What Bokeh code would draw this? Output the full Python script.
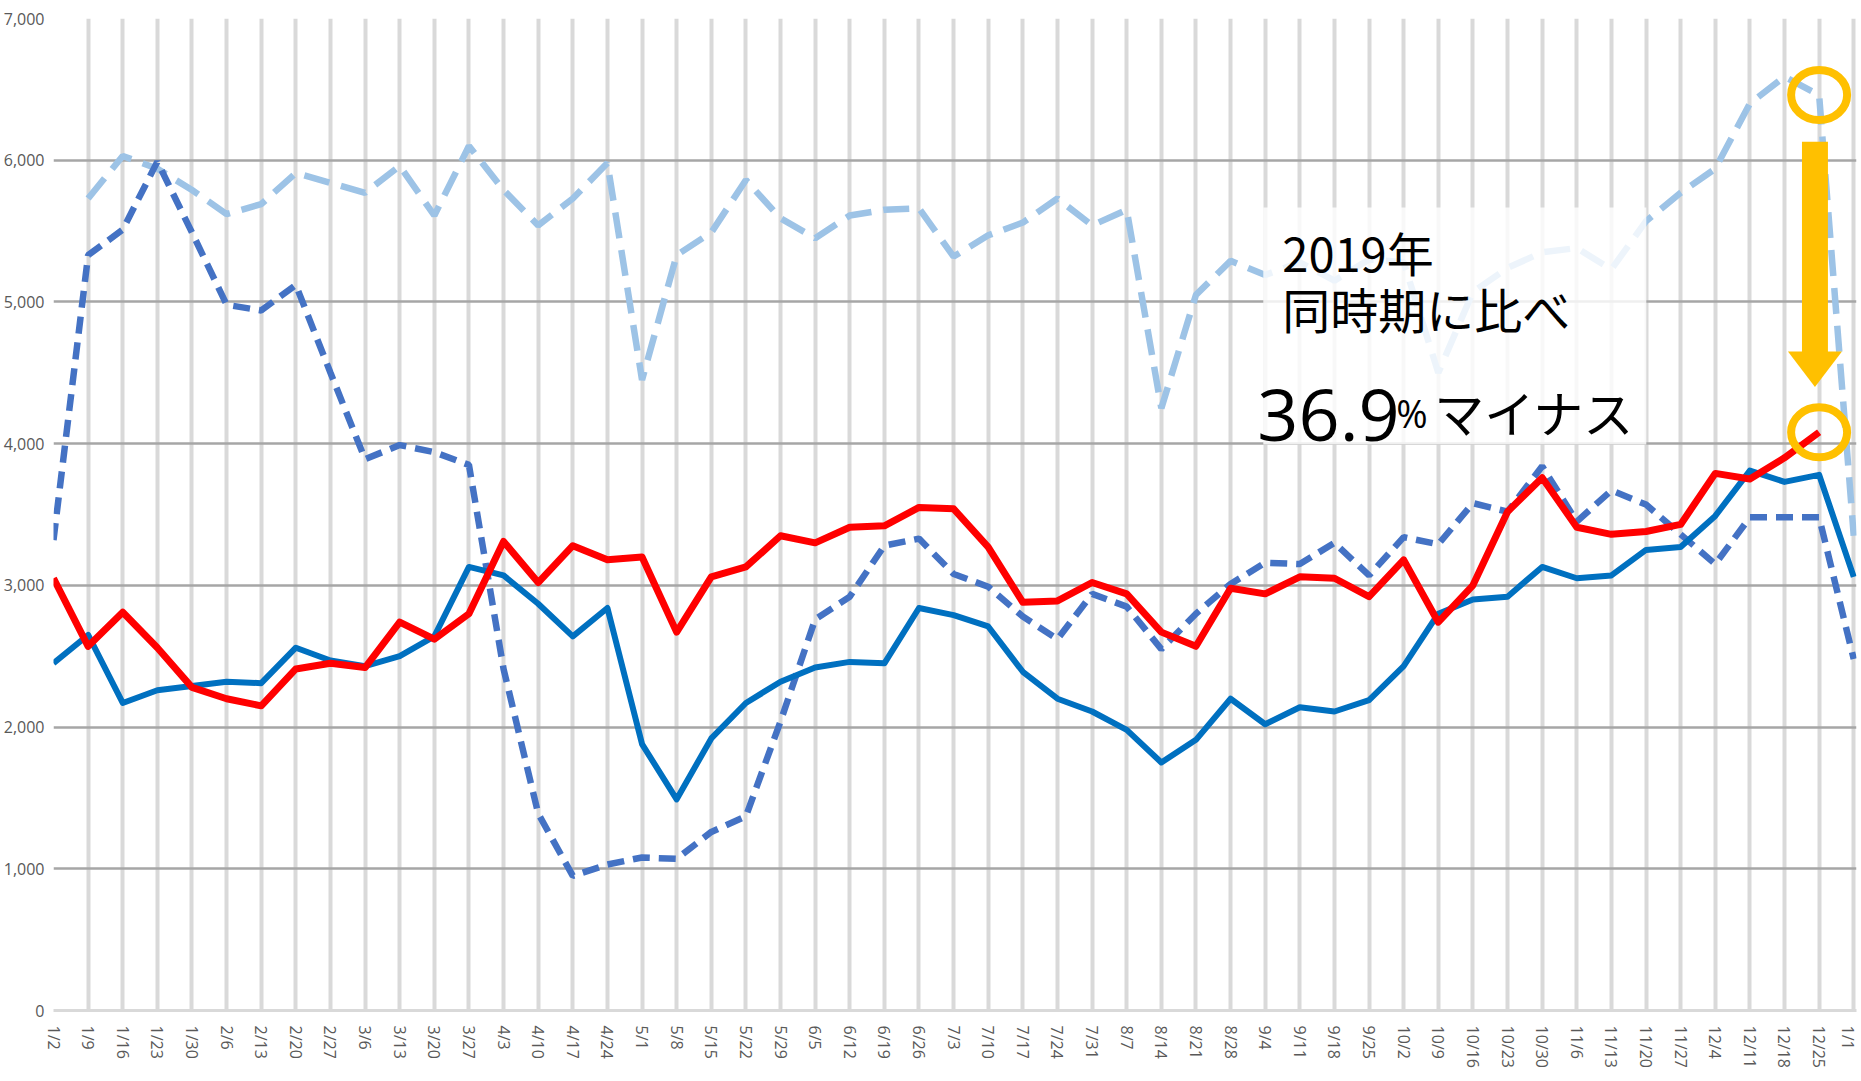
import math
import numpy as np
from bokeh.plotting import figure
from bokeh.models import FixedTicker, Range1d, Label, NumeralTickFormatter, ColumnDataSource
from bokeh.embed import file_html
from bokeh.resources import INLINE

# ---- data ----
dates = ["1/2", "1/9", "1/16", "1/23", "1/30", "2/6", "2/13", "2/20", "2/27", "3/6", "3/13", "3/20", "3/27",
         "4/3", "4/10", "4/17", "4/24", "5/1", "5/8", "5/15", "5/22", "5/29", "6/5", "6/12", "6/19", "6/26",
         "7/3", "7/10", "7/17", "7/24", "7/31", "8/7", "8/14", "8/21", "8/28", "9/4", "9/11", "9/18", "9/25",
         "10/2", "10/9", "10/16", "10/23", "10/30", "11/6", "11/13", "11/20", "11/27", "12/4", "12/11",
         "12/18", "12/25", "1/1"]

y2019 = [None, 5730, 6030, 5940, 5790, 5620, 5690, 5910, 5840, 5770, 5960, 5610, 6100,
         5790, 5540, 5730, 5980, 4450, 5330, 5490, 5860, 5590, 5450, 5610, 5650, 5660,
         5320, 5470, 5560, 5730, 5540, 5650, 4250, 5050, 5290, 5190, 5280, 5150, 5300,
         5280, 4500, 5070, 5240, 5350, 5380, 5230, 5570, 5770, 5940, 6400, 6590, 6460, 3350]

y2020 = [3320, 5330, 5510, 5990, 5490, 4980, 4940, 5120, 4500, 3890, 3990, 3940, 3850,
         2410, 1390, 950, 1030, 1080, 1070, 1260, 1370, 2040, 2760, 2920, 3280, 3330,
         3080, 2990, 2780, 2620, 2940, 2850, 2550, 2800, 3010, 3160, 3150, 3300, 3070,
         3340, 3290, 3580, 3520, 3840, 3450, 3670, 3570, 3360, 3150, 3480, 3480, 3480, 2480]

y2021 = [2450, 2650, 2170, 2260, 2290, 2320, 2310, 2560, 2470, 2430, 2500, 2640, 3130,
         3070, 2870, 2640, 2840, 1880, 1490, 1920, 2170, 2320, 2420, 2460, 2450, 2840,
         2790, 2710, 2390, 2200, 2110, 1980, 1750, 1910, 2200, 2020, 2140, 2110, 2190,
         2430, 2800, 2900, 2920, 3130, 3050, 3070, 3250, 3270, 3490, 3810, 3730, 3780, 3060]

y2022 = [3050, 2570, 2810, 2560, 2280, 2200, 2150, 2410, 2450, 2420, 2740, 2620, 2800,
         3310, 3020, 3280, 3180, 3200, 2670, 3060, 3130, 3350, 3300, 3410, 3420, 3550,
         3540, 3270, 2880, 2890, 3020, 2940, 2670, 2570, 2980, 2940, 3060, 3050, 2920,
         3180, 2740, 3000, 3520, 3760, 3410, 3360, 3380, 3430, 3790, 3750, 3900, 4080, None]

y_ticks = [0, 1000, 2000, 3000, 4000, 5000, 6000, 7000]

note_year = "2019年"
note_line2 = "同時期に比べ"
note_pct = "36.9"
note_pct_sign = "%"
note_minus = "マイナス"


def arr(v):
    return np.array([np.nan if a is None else a for a in v], dtype=float)


x = np.arange(len(dates))

p = figure(width=1858, height=1072, output_backend="svg", toolbar_location=None,
           x_range=Range1d(0, len(dates) - 1 + 0.08), y_range=Range1d(0, 7000),
           min_border_top=18, min_border_bottom=62, min_border_left=0, min_border_right=2)
p.outline_line_color = None
p.background_fill_color = "white"
p.border_fill_color = "white"

# x axis
p.xaxis.ticker = FixedTicker(ticks=list(range(len(dates))))
p.xaxis.major_label_overrides = {i: d for i, d in enumerate(dates)}
p.xaxis.major_label_orientation = -math.pi / 2
p.xaxis.major_label_text_font = "Open Sans"
p.xaxis.major_label_text_font_size = "16px"
p.xaxis.major_label_text_color = "#595959"
p.xaxis.major_label_standoff = 9
p.xaxis.axis_line_color = "#D9D9D9"
p.xaxis.axis_line_width = 3
p.xaxis.major_tick_line_color = None
p.xaxis.minor_tick_line_color = None

# y axis
p.yaxis.ticker = FixedTicker(ticks=y_ticks)
p.yaxis.formatter = NumeralTickFormatter(format="0,0")
p.yaxis.major_label_text_font = "Open Sans"
p.yaxis.major_label_text_font_size = "16px"
p.yaxis.major_label_text_color = "#595959"
p.yaxis.major_label_standoff = 3
p.yaxis.axis_line_color = None
p.yaxis.major_tick_line_color = None
p.yaxis.minor_tick_line_color = None

# grids
p.xgrid.ticker = FixedTicker(ticks=list(range(len(dates))))
p.xgrid.grid_line_color = "#D9D9D9"
p.xgrid.grid_line_width = 4
p.ygrid.ticker = FixedTicker(ticks=y_ticks)
p.ygrid.grid_line_color = "#A6A6A6"
p.ygrid.grid_line_width = 2.5

# series
p.line(x, arr(y2019), line_color="#9DC3E6", line_width=6.5, line_dash="26 12")
p.line(x, arr(y2020), line_color="#4472C4", line_width=6.5, line_dash="17 9")
p.line(x, arr(y2021), line_color="#0070C0", line_width=6, line_join="round")
p.line(x, arr(y2022), line_color="#FF0000", line_width=7, line_join="round")


def px_to_x(px):
    return (px - 52.2) / 34.62


def py_to_y(py):
    return (1011 - py) / 141.7 * 1000


# annotation box
p.quad(left=[px_to_x(1262)], right=[px_to_x(1645)], top=[py_to_y(208)], bottom=[py_to_y(445)],
       fill_color="white", fill_alpha=0.82, line_color=None)

font_jp = "Noto Sans CJK JP"
p.add_layout(Label(x=px_to_x(1281), y=py_to_y(218), text=note_year, text_font=font_jp,
                   text_font_size="47px", text_color="black", text_baseline="top"))
p.add_layout(Label(x=px_to_x(1281), y=py_to_y(274), text=note_line2, text_font=font_jp,
                   text_font_size="48px", text_color="black", text_baseline="top"))
p.add_layout(Label(x=px_to_x(1256), y=py_to_y(416), text=note_pct, text_font="Open Sans",
                   text_font_size="72px", text_color="black", text_baseline="alphabetic"))
p.add_layout(Label(x=px_to_x(1395), y=py_to_y(414), text=note_pct_sign, text_font="Open Sans",
                   text_font_size="38px", text_color="black", text_baseline="alphabetic"))
p.add_layout(Label(x=px_to_x(1433), y=py_to_y(412), text=note_minus, text_font=font_jp,
                   text_font_size="50px", text_color="black", text_baseline="alphabetic"))

# highlight rings at 12/25
i_last = len(dates) - 2
ring_src = ColumnDataSource(dict(x=[i_last, i_last], y=[y2019[i_last], y2022[i_last]]))
p.ellipse("x", "y", width=56, height=50, width_units="screen", height_units="screen",
          source=ring_src, fill_color=None, line_color="#FFC000", line_width=8)

# arrow from 2019 value down to current value
shaft_top = y2019[i_last] - 330
tip = y2022[i_last] + 320
head_base = tip + 250
xc = i_last - 0.12
p.quad(left=[xc - 0.375], right=[xc + 0.375], top=[shaft_top], bottom=[head_base - 10],
       fill_color="#FFC000", line_color=None)
p.patch([xc - 0.78, xc + 0.78, xc], [head_base, head_base, tip], fill_color="#FFC000", line_color=None)

open("out.html", "w").write(file_html(p, INLINE))
